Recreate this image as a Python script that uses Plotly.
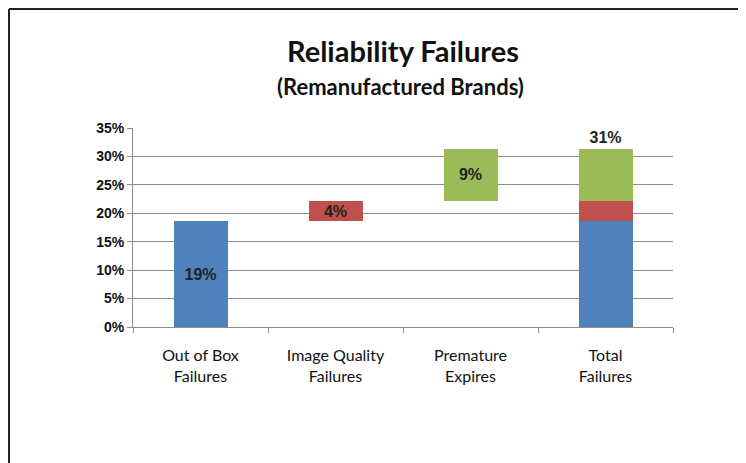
import plotly.graph_objects as go

categories = ["Out of Box<br>Failures", "Image Quality<br>Failures", "Premature<br>Expires", "Total<br>Failures"]
base_values = [0, 18.6, 22.2, 0]
out_of_box = [18.6, 0, 0, 18.6]
image_quality = [0, 3.6, 0, 3.6]
premature = [0, 0, 9.1, 9.1]
blue_labels = ["19%", "", "", ""]
red_labels = ["", "4%", "", ""]
green_labels = ["", "", "9%", "31%"]

W, H = 746, 463
OFF = 8  # page body margin
L, T = 133 - OFF, 128 - OFF
pw, ph = 540, 199
R, B = W - L - pw, H - T - ph

lab_font = dict(family="Liberation Sans, Arial", size=16, color="#222222", weight="bold")

fig = go.Figure()
fig.add_trace(go.Bar(x=categories, y=base_values, marker_color="rgba(0,0,0,0)",
                     hoverinfo="skip", showlegend=False))
fig.add_trace(go.Bar(x=categories, y=out_of_box, marker_color="#4F81BD",
                     text=blue_labels, textposition="inside", insidetextanchor="middle",
                     textfont=lab_font, constraintext="none", showlegend=False))
fig.add_trace(go.Bar(x=categories, y=image_quality, marker_color="#C0504D",
                     text=red_labels, textposition="inside", insidetextanchor="middle",
                     textfont=lab_font, constraintext="none", showlegend=False))
fig.add_trace(go.Bar(x=categories, y=premature, marker_color="#9BBB59",
                     text=green_labels, textposition=["none", "none", "inside", "outside"],
                     insidetextanchor="middle", textfont=lab_font, outsidetextfont=lab_font,
                     constraintext="none", cliponaxis=False, showlegend=False))

fig.update_traces(marker_line_width=0, selector=dict(type="bar"))

fig.update_layout(
    width=W, height=H,
    barmode="stack", bargap=0.6,
    margin=dict(l=L, r=R, t=T, b=B),
    paper_bgcolor="white", plot_bgcolor="white",
    font=dict(family="Lato, Open Sans", color="#111111"),
    xaxis=dict(showline=True, linecolor="#8c8c8c", linewidth=1,
               ticks="outside", tickson="boundaries", ticklen=5, tickcolor="#8c8c8c",
               tickfont=dict(family="Lato, Open Sans", size=16, color="#111111"),
               ticklabelstandoff=14, showgrid=False),
    yaxis=dict(range=[0, 35], dtick=5, ticksuffix="%", showline=True,
               linecolor="#8c8c8c", linewidth=1, ticks="outside", ticklen=5,
               tickcolor="#8c8c8c", showgrid=True, gridcolor="#8c8c8c", gridwidth=1,
               tickfont=dict(family="Liberation Sans, Arial", size=14, color="#111111", weight="bold"),
               zeroline=False),
)

px = lambda x: (x - OFF - L) / pw
py = lambda y: 1 - (y - OFF - T) / ph

fig.add_annotation(text="<b>Reliability Failures</b>", x=px(403), y=py(50), xref="paper", yref="paper",
                   xanchor="center", yanchor="middle",
                   showarrow=False, font=dict(family="Lato, Open Sans", size=29, color="#111111"))
fig.add_annotation(text="<b>(Remanufactured Brands)</b>", x=px(400), y=py(86), xref="paper", yref="paper",
                   xanchor="center", yanchor="middle",
                   showarrow=False, font=dict(family="Lato, Open Sans", size=22, color="#111111"))

border = dict(color="#222222", width=2)
fig.add_shape(type="line", xref="paper", yref="paper", x0=px(9), x1=px(9), y0=py(9), y1=py(480), line=border)
fig.add_shape(type="line", xref="paper", yref="paper", x0=px(9), x1=px(780), y0=py(9), y1=py(9), line=border)

fig.write_html("out.html")
